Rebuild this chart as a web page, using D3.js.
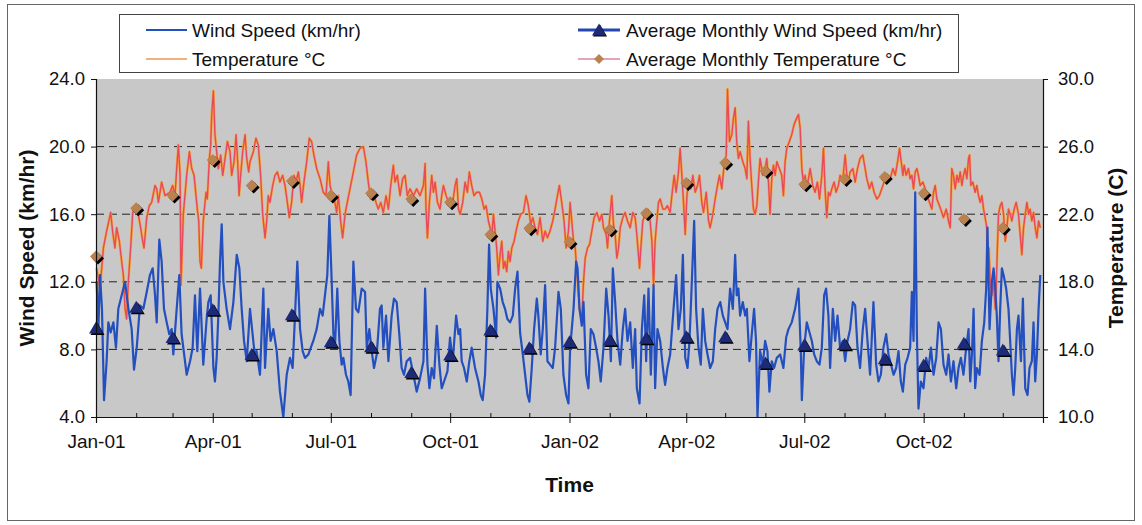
<!DOCTYPE html>
<html><head><meta charset="utf-8">
<script src="https://cdn.jsdelivr.net/npm/d3@7"></script>
<style>
body{margin:0;background:#fff;}
svg{display:block;}
text{font-family:"Liberation Sans",Arial,Helvetica,sans-serif;fill:#111;}
</style>
</head><body>
<svg id="chart" width="1142" height="525"></svg>
<script>
// ---------------- DATA ----------------
// day offset from 1 Jan 2001, value
const windSpeed = [
[0.5,12.0],[1.8,9.2],[3.1,12.4],[4.6,10.4],[6.2,5.0],[8.2,7.3],[9.5,9.6],[11.3,9.0],[13.4,9.6],[15.4,8.1],[17.2,10.4],[19.8,11.2],[22.4,12.0],[25.0,10.4],[27.5,9.2],[29.3,6.8],[31.4,8.1],[33.9,10.6],[36.5,10.4],[39.1,11.4],[41.6,12.4],[43.7,12.8],[45.5,11.2],[46.8,9.6],[48.8,14.5],[50.6,13.2],[52.4,10.4],[54.5,9.6],[56.5,8.9],[58.3,9.2],[59.6,7.7],[62.2,10.4],[64.2,12.4],[66.0,8.9],[68.6,7.3],[69.9,6.5],[72.5,7.3],[74.5,8.1],[76.3,11.2],[78.1,7.9],[80.2,11.6],[82.7,7.1],[85.3,9.8],[86.6,10.8],[88.4,11.2],[90.5,6.9],[91.7,6.1],[93.0,7.5],[94.3,10.0],[95.6,13.2],[96.9,15.4],[98.2,12.0],[100.7,10.4],[103.3,9.2],[105.9,10.8],[108.5,13.6],[110.5,12.8],[112.3,10.4],[114.1,8.5],[116.2,7.3],
[118.7,10.4],[122.6,7.5],[123.8,7.9],[126.4,6.5],[129.0,11.6],[130.3,6.9],[132.8,10.4],[134.6,8.5],[136.7,9.2],[139.3,7.9],[141.8,5.5],[144.4,4.0],[147.0,6.5],[149.5,7.5],[151.6,6.9],[153.4,10.0],[155.2,13.2],[157.3,9.2],[159.3,7.9],[161.1,7.5],[163.7,7.7],[167.5,8.5],[170.1,9.2],[172.7,10.4],[174.7,10.0],[176.5,11.2],[178.3,12.4],[179.9,15.9],[181.7,12.0],[183.0,8.9],[184.2,8.1],[186.0,11.6],[187.6,8.5],[189.4,7.1],[190.7,7.5],[192.7,6.5],[194.5,6.1],[196.3,5.3],[198.4,13.2],[200.4,10.4],[202.2,10.2],[204.8,11.6],[207.4,11.4],[208.7,8.1],[210.7,9.2],[212.5,7.9],[214.3,6.9],[216.4,7.7],[218.9,10.4],[220.2,10.6],[221.5,8.1],[223.6,10.0],[225.4,7.3],[227.9,10.0],[229.7,11.0],[231.8,10.8],[233.8,8.9],[235.6,6.9],[237.4,6.5],[239.5,7.3],
[242.1,7.5],[244.7,6.5],[247.2,5.5],[249.8,6.3],[252.4,7.3],[253.7,11.6],[255.5,7.1],[257.0,5.7],[258.8,6.9],[260.6,6.3],[262.7,9.4],[264.7,7.1],[266.5,5.7],[268.3,6.1],[270.9,6.7],[272.9,8.7],[275.0,7.3],[277.6,10.0],[279.4,8.9],[280.7,9.2],[281.9,7.3],[283.7,6.9],[285.8,6.1],[287.8,7.3],[289.6,8.1],[292.2,6.9],[294.8,6.1],[296.6,5.3],[298.1,5.0],[299.9,6.5],[301.7,10.4],[303.0,14.2],[304.3,11.6],[306.4,10.4],[308.4,8.7],[309.4,12.0],[311.5,11.6],[313.5,10.8],[315.3,10.4],[317.1,9.8],[319.2,9.6],[321.3,10.0],[323.1,11.6],[324.9,12.6],[326.9,9.0],[329.0,7.7],[330.8,6.5],[332.6,5.3],[334.1,4.9],[335.9,6.9],[337.7,9.2],[339.8,11.0],[341.0,10.0],[342.8,7.7],[344.4,9.2],[346.2,11.8],[348.0,7.3],[350.0,7.1],[352.1,6.9],[353.9,8.1],[356.5,11.4],[358.3,10.4],[360.3,6.5],[362.4,5.3],[364.2,4.8],
[365.5,8.1],[368.1,10.4],[370.1,13.2],[371.2,12.8],[372.7,10.4],[374.5,9.4],[375.8,10.8],[377.8,6.5],[379.6,5.7],[381.4,9.2],[383.5,8.9],[385.5,8.1],[387.3,7.3],[389.1,6.1],[391.2,8.1],[393.3,11.6],[395.1,10.0],[396.9,7.3],[398.4,12.8],[400.2,10.8],[402.0,8.5],[404.1,7.1],[406.1,9.2],[407.9,10.4],[409.7,8.5],[411.8,9.6],[413.8,6.9],[415.6,9.2],[416.9,5.7],[419.0,4.8],[420.8,9.2],[422.6,11.2],[424.1,7.3],[425.9,11.6],[427.7,6.5],[429.8,11.8],[431.0,5.7],[432.8,9.2],[434.9,8.5],[437.0,6.9],[438.7,5.9],[440.5,6.9],[442.6,7.7],[445.2,10.4],[447.2,12.4],[449.0,9.2],[450.8,10.4],[452.4,13.6],[454.2,7.5],[456.0,6.9],[457.5,8.5],[459.3,12.0],[461.1,15.6],[462.6,10.4],[464.4,8.1],[466.2,7.1],[467.8,10.4],[469.6,8.5],[471.4,7.7],[473.4,6.9],[475.5,7.3],[477.3,9.2],[479.1,10.4],[481.2,10.8],[483.2,10.0],[485.0,9.6],[486.8,9.2],
[488.8,11.6],[490.9,10.4],[492.7,13.6],[493.9,11.2],[495.2,11.6],[496.5,10.0],[498.6,10.8],[500.4,10.0],[501.7,10.4],[503.7,7.3],[505.5,8.9],[507.3,10.4],[508.8,8.5],[509.9,4.0],[511.9,7.9],[514.0,7.1],[515.8,8.5],[517.6,7.9],[519.1,5.5],[520.9,7.3],[522.7,6.9],[524.8,7.5],[527.4,7.7],[529.9,6.9],[532.0,8.7],[533.8,9.2],[536.3,9.6],[538.9,10.4],[541.5,11.6],[543.3,7.9],[544.1,5.0],[545.9,8.1],[547.9,9.6],[550.0,9.0],[551.8,8.5],[553.6,7.7],[555.6,7.3],[557.7,7.1],[559.5,8.1],[561.3,11.2],[562.8,11.6],[564.6,10.0],[565.9,6.9],[568.0,10.4],[569.8,8.5],[571.6,10.0],[573.6,8.1],[575.7,8.5],[577.5,7.3],[579.3,8.5],[581.3,9.2],[583.4,10.8],[585.2,10.6],[587.0,8.1],[589.0,6.9],[591.1,9.2],[592.9,10.4],[594.7,8.5],[596.7,6.5],[599.3,10.8],[601.4,7.1],[603.2,6.1],[605.0,6.5],[607.0,8.1],[609.1,8.9],[610.9,7.7],
[612.2,7.3],[614.8,6.5],[616.8,6.9],[618.6,7.9],[620.4,6.1],[622.0,5.5],[623.8,7.1],[625.6,7.5],[627.6,8.1],[628.9,11.4],[630.2,8.5],[631.5,17.3],[632.8,8.9],[634.0,4.5],[635.8,6.1],[637.9,5.7],[639.9,7.5],[641.8,6.9],[643.6,8.1],[645.6,6.5],[647.7,7.5],[649.5,9.6],[651.3,9.2],[653.3,7.1],[655.4,6.5],[657.2,7.7],[659.0,6.1],[661.0,7.3],[663.1,5.7],[664.9,6.9],[666.7,7.5],[668.7,6.5],[670.8,8.1],[672.6,9.2],[673.9,6.1],[675.2,7.7],[676.5,10.4],[677.7,5.7],[679.0,6.9],[681.1,6.5],[682.9,8.5],[684.7,9.6],[686.2,11.6],[687.2,15.2],[688.8,9.2],[690.6,12.0],[691.9,12.8],[693.2,11.6],[694.4,10.0],[695.7,7.3],[697.0,10.4],[698.3,12.8],[699.6,12.4],[701.6,11.6],[703.4,10.4],[704.7,8.5],[706.0,6.5],[707.3,5.3],[708.6,6.9],[709.9,9.2],[711.1,10.0],[713.0,7.3],[714.5,11.0],[716.3,5.7],[718.1,5.3],[719.6,6.9],[721.4,7.3],[722.7,9.6],[724.0,6.1],[725.3,7.7],[726.6,10.4],[727.9,12.4]
];

const temperature = [
[0.5,18.8],[3.1,17.6],[5.7,20.0],[8.2,21.0],[11.3,22.1],[12.8,21.0],[14.6,20.0],[15.9,21.2],[18.0,20.4],[19.8,19.2],[21.1,18.4],[22.4,16.4],[23.6,15.8],[24.9,18.0],[26.7,20.0],[28.3,22.1],[30.1,22.3],[32.6,22.0],[34.4,21.2],[36.0,20.4],[37.0,20.0],[39.1,21.8],[41.1,22.5],[42.9,22.7],[45.5,23.7],[46.8,23.5],[48.1,22.7],[50.6,23.9],[53.2,23.1],[57.0,23.3],[59.1,23.7],[60.9,23.1],[62.2,24.7],[63.5,26.1],[64.8,24.3],[65.5,17.8],[67.3,22.0],[69.9,24.3],[72.0,25.7],[73.8,24.7],[75.6,24.3],[77.1,23.1],[78.1,22.3],[79.2,21.6],[80.2,19.2],[81.2,18.8],[82.7,21.6],[84.8,23.3],[85.8,22.9],[87.4,25.3],[88.4,26.1],[89.2,27.9],[90.5,29.3],[91.7,26.7],[93.0,25.7],[94.3,24.7],[96.1,25.5],[97.7,24.3],[99.5,25.3],[101.3,26.3],[103.3,25.7],[104.6,24.3],[106.4,25.1],[108.0,26.7],[109.2,25.1],[110.3,23.1],[111.5,24.3],[113.1,25.7],[114.9,26.7],[116.2,25.3],[117.7,24.5],
[118.7,25.1],[121.3,25.7],[123.3,26.5],[125.1,26.1],[126.9,24.3],[128.5,22.0],[130.3,20.6],[131.6,21.6],[132.8,23.1],[134.1,22.7],[136.2,23.7],[138.0,24.3],[139.8,24.5],[141.8,23.9],[143.9,24.3],[145.7,23.7],[147.5,22.7],[149.0,21.8],[150.8,22.7],[152.6,24.3],[154.2,23.9],[156.0,24.5],[157.3,23.7],[158.5,22.7],[160.3,23.9],[162.4,25.1],[164.4,26.5],[166.2,26.3],[168.0,25.5],[170.1,24.7],[172.7,24.1],[175.2,23.3],[177.3,23.1],[179.1,25.1],[180.4,23.7],[182.4,23.1],[184.2,22.7],[185.5,22.1],[186.8,23.1],[188.6,21.6],[190.1,20.6],[192.0,22.0],[193.7,22.7],[195.8,23.5],[198.4,24.5],[200.9,25.5],[203.5,25.9],[206.1,26.0],[208.1,25.1],[209.9,23.9],[211.7,22.9],[213.8,23.3],[215.8,22.7],[217.6,22.3],[219.5,22.7],[221.5,22.1],[223.6,23.1],[225.4,22.3],[227.2,23.7],[229.2,24.9],[230.5,23.9],[232.3,24.3],[234.4,23.1],[236.4,24.1],[238.2,24.3],[240.0,23.1],
[242.1,23.5],[244.7,23.1],[247.2,23.5],[249.8,23.1],[252.4,23.7],[253.7,25.0],[254.4,22.3],[255.5,20.6],[257.0,22.7],[258.8,24.3],[260.1,23.3],[261.4,23.9],[263.2,22.7],[265.2,22.3],[266.5,23.1],[267.8,23.7],[269.9,23.1],[271.7,22.7],[272.9,22.9],[275.0,22.7],[276.8,23.7],[278.1,24.1],[279.4,22.3],[280.7,22.0],[282.7,22.7],[284.5,23.9],[286.3,23.3],[287.8,24.5],[289.6,23.7],[291.4,23.1],[293.5,23.3],[295.6,23.3],[297.4,22.9],[299.2,22.3],[300.7,22.5],[302.5,21.6],[303.8,21.2],[305.1,20.8],[306.4,22.0],[307.6,21.0],[308.9,20.0],[310.2,18.4],[311.5,19.6],[312.8,20.4],[314.1,18.8],[315.3,19.2],[316.6,18.6],[317.9,19.8],[319.2,19.2],[320.5,20.0],[322.3,20.4],[323.8,21.0],[325.6,21.6],[327.4,22.0],[329.5,22.1],[331.5,23.1],[333.3,22.5],[335.1,21.4],[336.7,21.8],[338.5,21.2],[340.3,20.8],[342.3,21.8],[344.4,20.4],[346.2,21.0],[348.0,20.6],[350.0,21.0],[352.1,21.6],[353.9,22.3],[355.7,23.1],[357.2,23.7],[359.0,22.7],[360.8,21.6],[362.4,20.0],[364.2,21.0],
[365.5,22.7],[368.1,20.4],[369.4,20.0],[371.2,18.0],[372.7,16.4],[374.5,15.8],[375.8,18.0],[377.1,19.4],[378.9,20.0],[380.4,20.2],[382.2,21.0],[384.0,21.8],[386.1,22.1],[388.1,21.6],[389.9,22.0],[391.2,21.2],[393.3,20.8],[394.3,20.0],[395.8,21.6],[397.6,23.1],[398.9,21.4],[400.2,20.8],[401.5,19.4],[402.8,20.0],[404.1,21.2],[406.1,21.8],[407.9,22.1],[409.7,21.6],[411.8,21.2],[413.8,22.1],[415.6,21.8],[416.9,20.8],[419.0,18.8],[420.0,20.0],[421.5,21.6],[423.3,22.0],[425.1,22.3],[426.7,22.0],[428.5,20.4],[429.8,17.8],[431.0,20.4],[432.3,21.6],[433.6,22.7],[434.9,22.9],[437.0,22.3],[438.7,22.3],[440.5,22.5],[442.6,22.1],[443.9,23.1],[445.7,24.3],[447.2,23.3],[449.0,24.5],[450.3,25.9],[451.6,24.3],[452.9,22.7],[454.2,20.8],[455.5,23.1],[456.7,23.9],[458.5,23.5],[460.1,24.3],[461.9,23.3],[463.7,23.7],[465.2,24.3],[467.0,22.7],[468.3,22.1],[470.4,23.3],[472.2,21.6],[473.4,21.2],[475.5,22.0],[477.3,22.9],[479.1,23.7],[480.6,24.3],[482.4,23.5],[484.2,24.9],[485.8,25.5],[486.8,29.4],[488.3,26.3],
[490.1,26.7],[491.4,27.7],[492.7,28.3],[493.9,26.3],[495.2,25.3],[496.5,25.7],[498.6,25.1],[500.4,24.7],[501.7,24.1],[502.9,27.5],[504.2,25.3],[505.5,23.7],[506.8,22.3],[508.1,22.0],[509.4,22.5],[510.6,23.9],[511.9,25.3],[514.0,24.3],[515.8,24.7],[517.1,25.3],[518.4,23.9],[519.6,22.0],[520.9,24.1],[522.2,24.9],[523.5,24.3],[524.8,25.1],[526.8,24.7],[528.6,24.3],[529.9,23.1],[531.2,25.1],[532.5,25.9],[534.5,26.3],[536.3,26.7],[538.1,27.3],[540.2,27.7],[541.5,27.9],[542.8,27.1],[544.1,24.7],[545.3,23.9],[546.6,24.3],[547.9,23.5],[549.2,24.1],[550.5,24.7],[552.5,23.7],[554.3,23.3],[556.1,23.9],[557.7,22.9],[559.5,24.3],[560.8,25.9],[562.0,23.5],[563.3,21.8],[564.6,23.3],[565.9,23.1],[567.2,23.5],[569.0,23.9],[570.5,23.3],[572.3,23.7],[573.6,24.3],[575.7,24.1],[577.5,25.5],[578.8,24.3],[580.0,23.9],[581.3,24.5],[583.4,24.7],[585.2,23.9],[587.0,24.7],[589.0,25.3],[591.1,25.5],[592.9,24.7],[594.2,24.1],[596.2,23.5],[598.0,23.9],[599.8,23.3],[601.9,22.9],[603.9,23.1],[605.7,23.5],[607.5,23.9],[609.6,24.3],[611.6,24.1],
[612.2,24.1],[614.3,24.7],[616.1,24.3],[617.9,25.1],[619.4,25.9],[620.4,25.3],[622.0,24.3],[623.0,24.9],[624.5,24.3],[626.3,24.7],[627.6,24.1],[628.9,24.3],[630.2,23.5],[631.5,24.5],[632.8,24.7],[634.0,24.3],[635.3,23.7],[637.4,23.9],[639.2,23.5],[640.5,23.1],[642.5,22.7],[644.3,22.3],[645.6,23.3],[646.9,23.7],[648.2,22.9],[650.2,22.5],[652.0,22.1],[653.3,21.8],[655.4,22.3],[657.2,21.6],[658.5,21.2],[659.7,24.7],[661.0,24.3],[662.3,23.5],[663.6,24.3],[664.9,23.9],[666.2,24.5],[667.5,23.7],[668.7,24.3],[670.0,24.7],[671.3,24.1],[672.6,25.3],[673.4,25.5],[674.4,23.7],[675.9,23.9],[677.7,23.3],[679.0,23.7],[680.3,23.1],[681.6,22.7],[682.9,23.1],[684.2,22.3],[685.4,21.8],[686.7,21.2],[687.5,18.4],[688.3,20.0],[689.3,18.0],[690.6,17.2],[691.9,18.0],[693.2,16.4],[693.9,17.6],[695.0,20.4],[695.7,22.0],[697.0,22.5],[698.3,22.7],[699.6,22.0],[700.9,20.4],[702.2,21.2],[703.4,22.3],[704.7,22.0],[706.0,21.6],[707.8,22.3],[709.3,22.7],[711.1,22.0],[712.4,20.8],[713.7,19.6],[715.0,21.2],[716.3,22.0],[717.6,22.7],[718.9,22.0],[720.1,22.3],[721.4,21.6],[722.7,22.1],[724.0,21.2],[725.3,20.6],[726.6,21.6],[727.9,21.2]
];

const monthStarts = ["2001-01","2001-02","2001-03","2001-04","2001-05","2001-06","2001-07","2001-08","2001-09","2001-10","2001-11","2001-12",
                     "2002-01","2002-02","2002-03","2002-04","2002-05","2002-06","2002-07","2002-08","2002-09","2002-10","2002-11","2002-12"];
const avgWind = [9.27,10.5,8.7,10.35,7.7,10.05,8.46,8.16,6.63,7.67,9.15,8.1,8.46,8.55,8.66,8.75,8.75,7.2,8.26,8.3,7.45,7.08,8.36,7.96];
const avgTemp = [19.5,22.35,23.1,25.2,23.7,23.96,23.1,23.24,22.9,22.7,20.8,21.17,20.35,21.1,22.05,23.85,25.05,24.56,23.77,24.08,24.2,23.24,21.72,21.2];

const windTicks = [4,8,12,16,20,24];
const tempTicks = [10,14,18,22,26,30];
const xTickLabels = ["Jan-01","Apr-01","Jul-01","Oct-01","Jan-02","Apr-02","Jul-02","Oct-02"];
const legendLabels = ["Wind Speed (km/hr)","Average Monthly Wind Speed (km/hr)","Temperature °C","Average Monthly Temperature °C"];

// ---------------- CHART ----------------
const svg = d3.select("#chart");
const L = 96, R = 1043, T = 79, B = 417;
const t0 = Date.UTC(2001,0,1);
const t1 = Date.UTC(2003,0,1);
const dayDate = d => new Date(t0 + d*86400000);
const monthDate = s => new Date(Date.UTC(+s.slice(0,4), +s.slice(5,7)-1, 1));

const x = d3.scaleUtc().domain([new Date(t0), new Date(t1)]).range([L, R]);
const yW = d3.scaleLinear().domain([4,24]).range([B, T]);
const yT = d3.scaleLinear().domain([10,30]).range([B, T]);

// outer frame
svg.append("rect").attr("x",7.5).attr("y",4.5).attr("width",1127).attr("height",516)
  .attr("fill","none").attr("stroke","#666").attr("stroke-width",1);

// plot background
svg.append("rect").attr("x",L).attr("y",T).attr("width",R-L).attr("height",B-T).attr("fill","#c8c8c8");

// gridlines
svg.append("g").selectAll("line").data(windTicks.filter(v=>v>4 && v<24)).join("line")
  .attr("x1",L).attr("x2",R).attr("y1",d=>yW(d)).attr("y2",d=>yW(d))
  .attr("stroke","#222").attr("stroke-width",1).attr("stroke-dasharray","8,5");

// lines
const windLine = d3.line().x(d=>x(dayDate(d[0]))).y(d=>yW(d[1]));
const tempLine = d3.line().x(d=>x(dayDate(d[0]))).y(d=>yT(d[1]));

svg.append("path").datum(temperature).attr("d",tempLine).attr("fill","none")
  .attr("stroke","#f6a83e").attr("stroke-width",2.6).attr("stroke-linejoin","round");
svg.append("path").datum(temperature).attr("d",tempLine).attr("fill","none")
  .attr("stroke","#e64a5c").attr("stroke-width",1.4).attr("stroke-linejoin","round");
svg.append("path").datum(windSpeed).attr("d",windLine).attr("fill","none")
  .attr("stroke","#234fbf").attr("stroke-width",2.2).attr("stroke-linejoin","round");

// monthly markers
const tri = "M0,-6.5L7,5.5L-7,5.5Z";
const dia = "M0,-6L6,0L0,6L-6,0Z";
const mw = svg.append("g");
monthStarts.forEach((m,i)=>{
  const px = x(monthDate(m)), py = yW(avgWind[i]);
  mw.append("path").attr("d",tri).attr("transform",`translate(${px+1.5},${py+1.5})`).attr("fill","#000");
  mw.append("path").attr("d",tri).attr("transform",`translate(${px},${py})`).attr("fill","#1d2a78");
});
const mt = svg.append("g");
monthStarts.forEach((m,i)=>{
  const px = x(monthDate(m)), py = yT(avgTemp[i]);
  mt.append("path").attr("d",dia).attr("transform",`translate(${px+2},${py+2})`).attr("fill","#000");
  mt.append("path").attr("d",dia).attr("transform",`translate(${px},${py})`).attr("fill","#b98250");
});

// axes
const axL = svg.append("g").attr("transform",`translate(${L},0)`)
  .call(d3.axisLeft(yW).tickValues(windTicks).tickFormat(d3.format(".1f")).tickSize(5).tickPadding(6));
const axR = svg.append("g").attr("transform",`translate(${R},0)`)
  .call(d3.axisRight(yT).tickValues(tempTicks).tickFormat(d3.format(".1f")).tickSize(5).tickPadding(10));
const allMonths = d3.utcMonth.range(new Date(t0), new Date(t1 + 86400000));
const quarters = allMonths.filter(d => d.getUTCMonth() % 3 === 0 && +d < t1);
// minor monthly ticks (inside)
const axM = svg.append("g").attr("transform",`translate(0,${B})`)
  .call(d3.axisTop(x).tickValues(allMonths).tickSize(4).tickFormat(""));
axM.select(".domain").remove();
// major quarterly ticks with labels (outside)
const axB = svg.append("g").attr("transform",`translate(0,${B})`)
  .call(d3.axisBottom(x).tickValues(quarters).tickSize(6).tickPadding(12)
    .tickFormat((d,i)=> xTickLabels[i]));
[axL,axR,axB,axM].forEach(a=>{
  a.select(".domain").attr("stroke","#111").attr("stroke-width",1.2);
  a.selectAll(".tick line").attr("stroke","#111");
  a.selectAll("text").attr("fill","#111").attr("font-family","'Liberation Sans',Arial,sans-serif");
});
axL.selectAll("text").attr("font-size","18.5px");
axR.selectAll("text").attr("font-size","18.5px");
axB.selectAll("text").attr("font-size","19px");

// axis titles
svg.append("text").attr("transform",`translate(34,${(T+B)/2}) rotate(-90)`)
  .attr("text-anchor","middle").attr("font-weight","bold").attr("font-size","21px").text("Wind Speed (km/hr)");
svg.append("text").attr("transform",`translate(1123,${(T+B)/2}) rotate(-90)`)
  .attr("text-anchor","middle").attr("font-weight","bold").attr("font-size","21px").text("Temperature (C)");
svg.append("text").attr("x",(L+R)/2).attr("y",492)
  .attr("text-anchor","middle").attr("font-weight","bold").attr("font-size","21px").text("Time");

// legend
const lfs = "19px";
const lg = svg.append("g");
lg.append("rect").attr("x",119.5).attr("y",14.5).attr("width",839).attr("height",58)
  .attr("fill","#fff").attr("stroke","#444").attr("stroke-width",1);
// wind speed
lg.append("line").attr("x1",146).attr("x2",187).attr("y1",30).attr("y2",30).attr("stroke","#2350c0").attr("stroke-width",2);
lg.append("text").attr("x",192).attr("y",30).attr("dy","0.35em").attr("font-size",lfs).text(legendLabels[0]);
// avg wind
lg.append("line").attr("x1",578).attr("x2",620).attr("y1",30).attr("y2",30).attr("stroke","#2548b0").attr("stroke-width",3);
lg.append("path").attr("d",tri).attr("transform","translate(600,31)").attr("fill","#000");
lg.append("path").attr("d",tri).attr("transform","translate(599,30)").attr("fill","#1d2a78");
lg.append("text").attr("x",626).attr("y",30).attr("dy","0.35em").attr("font-size",lfs).text(legendLabels[1]);
// temperature
lg.append("line").attr("x1",146).attr("x2",187).attr("y1",59).attr("y2",59).attr("stroke","#eeb27c").attr("stroke-width",2);
lg.append("text").attr("x",192).attr("y",59).attr("dy","0.35em").attr("font-size",lfs).text(legendLabels[2]);
// avg temp
lg.append("line").attr("x1",578).attr("x2",620).attr("y1",59).attr("y2",59).attr("stroke","#e0a6b4").attr("stroke-width",2);
lg.append("path").attr("d","M0,-5L5,0L0,5L-5,0Z").attr("transform","translate(599,59)").attr("fill","#b98250");
lg.append("text").attr("x",626).attr("y",59).attr("dy","0.35em").attr("font-size",lfs).text(legendLabels[3]);
</script>
</body></html>
